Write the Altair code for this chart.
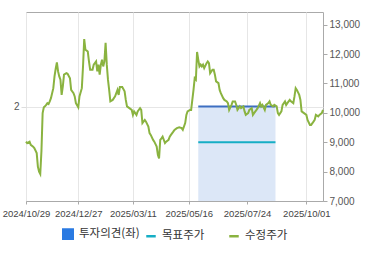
import altair as alt
import pandas as pd

# trading-day index and adjusted price (수정주가)
days = [0, 1, 3, 4, 6, 7, 9, 10, 11, 12, 13, 14, 15, 16, 17, 18, 19, 20, 21, 23, 24, 25, 26, 27, 28, 29, 30, 31,
        32, 34, 35, 37, 38, 40, 41, 42, 44, 45, 47, 48, 49, 50, 52, 53, 54, 56, 57, 59, 60, 61, 62, 63, 64, 65,
        66, 67, 68, 69, 70, 71, 73, 75, 77, 78, 79, 81, 83, 84, 85, 87, 89, 90, 91, 93, 94, 96, 97, 98, 100,
        101, 103, 104, 105, 107, 108, 110, 111, 112, 113, 114, 115, 117, 118, 120, 121, 122, 124, 125, 127,
        129, 131, 132, 134, 135, 136, 138, 139, 140, 141, 142, 143, 144, 145, 146, 147, 148, 149, 150, 152,
        153, 154, 155, 157, 158, 159, 160, 162, 163, 164, 166, 167, 169, 170, 171, 173, 174, 176, 177, 178,
        180, 181, 183, 184, 185, 187, 188, 190, 191, 192, 194, 195, 197, 198, 199, 201, 202, 204, 205, 206,
        208, 209, 211, 212, 213, 215, 216, 218, 219, 220, 222, 223, 225, 226, 227, 228, 230, 231, 232, 234,
        236, 237, 239, 240, 242, 243, 244, 246, 247, 249, 250]
prices = [9020, 8970, 9020, 8910, 8850, 8800, 8630, 8170, 8000, 7920, 8700, 9990, 10190, 10220, 10270, 10330,
          10300, 10390, 10500, 10840, 11240, 11500, 11720, 11410, 11240, 11130, 10610, 10900,
          11300, 11350, 11330, 11180, 10780, 10670, 10560, 10330, 10190, 10560, 10840, 11580, 12510, 12150,
          12090, 11750, 11470, 11470, 11640, 11750, 11410, 11640, 11300, 11640, 11810, 11580,
          11750, 12380, 11640, 11130, 10780, 10390, 10440, 10560, 10780, 10610, 10880, 10880, 10730, 10440,
          10220, 10160, 10100, 9930, 10050, 9930, 10050, 10160, 10100, 9650, 9760,
          9700, 9530, 9310, 9250, 9080, 9020, 8850, 8570, 8450, 9080, 9130, 9190, 8970, 9020, 9080, 9190,
          9250, 9360, 9420, 9480,
          9510, 9480, 9420, 9650, 9930, 10050, 10100, 10100, 10440, 10780, 11180, 11130, 12070, 11810,
          11580, 11640, 11580, 11640, 11520, 11690,
          11750, 11690, 11350, 11470, 11470, 11300, 11070, 11010, 10780, 10670, 10500, 10440, 10390, 10330,
          10100, 10270, 10390, 10390, 10270, 10100,
          10220, 10160, 10220, 10050, 9930, 9990, 10100, 10160, 9930, 9990, 10100, 10160, 10330, 10220,
          10270, 10100, 10270, 10330, 10390, 10270,
          10220, 10270, 10220, 9990, 9930, 10050, 10270, 10390, 10270, 10330, 10440, 10390, 10330, 10560,
          10840, 10780, 10610, 10440, 10050, 9990,
          9930, 9760, 9590, 9590, 9700, 9760, 9930, 9880, 9930, 9990, 10100]

# opinion / target period
op_start = [145]
op_end = [210]
opinion = [2]
target = [9000]

tick_days = [0, 44, 90, 137, 186, 236]
tick_labels = ["2024/10/29", "2024/12/27", "2025/03/11", "2025/05/16", "2025/07/24", "2025/10/01"]
price_ticks = [7000, 8000, 9000, 10000, 11000, 12000, 13000]

legend_names = ["투자의견(좌)", "목표주가", "수정주가"]
legend_colors = ["#2a7ae2", "#16aec5", "#8ab340"]
legend_shapes = ["square", "stroke", "stroke"]

price_df = pd.DataFrame({"day": days, "price": prices})
op_df = pd.DataFrame({"start": op_start, "end": op_end, "opinion": opinion, "target": target})
leg_df = pd.DataFrame({"name": legend_names, "day": [0, 0, 0], "price": [7000, 7000, 7000]})

label_expr = "{" + ",".join(f"'{d}':'{l}'" for d, l in zip(tick_days, tick_labels)) + "}[datum.value]"

FONT = "Liberation Sans"
x_scale = alt.Scale(domain=[0, 250], nice=False, zero=False)
x_axis = alt.Axis(values=tick_days, labelExpr=label_expr, grid=True, gridColor="#e6e6e6",
                  domain=True, domainColor="#aaaaaa", tickColor="#aaaaaa", tickSize=3,
                  labelColor="#444444", labelFontSize=9.5, labelFont=FONT, labelPadding=4,
                  labelFlush=False, labelOverlap=False, title=None)
y_price_scale = alt.Scale(domain=[7000, 13432], nice=False, zero=False)
y_op_scale = alt.Scale(domain=[0, 4], nice=False, zero=False)

op_axis = alt.Axis(values=[2], orient="left", grid=True, gridColor="#e6e6e6", domain=False,
                   tickColor="#dddddd", tickSize=5, labelPadding=2, labelColor="#555555",
                   labelFontSize=10, labelFont=FONT, title=None)
price_axis = alt.Axis(values=price_ticks, orient="right",
                      grid=False, domain=False, tickColor="#aaaaaa", tickSize=4, labelPadding=2,
                      labelColor="#555555", labelFontSize=10, labelFont=FONT,
                      labelExpr="format(datum.value, ',')",
                      labelOverlap=False, title=None)

area = alt.Chart(op_df).mark_rect(color="#dce7f7").encode(
    x=alt.X("start:Q", scale=x_scale, axis=x_axis),
    x2="end:Q",
    y=alt.Y("opinion:Q", scale=y_op_scale, axis=op_axis),
    y2=alt.datum(0),
)
op_line = alt.Chart(op_df).mark_rule(color="#3d6fc1", strokeWidth=2).encode(
    x=alt.X("start:Q", scale=x_scale, axis=x_axis),
    x2="end:Q",
    y=alt.Y("opinion:Q", scale=y_op_scale, axis=op_axis),
)
left = alt.layer(area, op_line)

target_line = alt.Chart(op_df).mark_rule(color="#16aec5", strokeWidth=2).encode(
    x=alt.X("start:Q", scale=x_scale, axis=x_axis),
    x2="end:Q",
    y=alt.Y("target:Q", scale=y_price_scale, axis=price_axis),
)
price_line = alt.Chart(price_df).mark_line(color="#8ab340", strokeWidth=2).encode(
    x=alt.X("day:Q", scale=x_scale, axis=x_axis),
    y=alt.Y("price:Q", scale=y_price_scale, axis=price_axis),
)
legend = alt.Legend(orient="none", legendX=36, legendY=216, direction="horizontal", columns=3,
                    gridAlign="all", columnPadding=1, title=None, labelFont="Noto Sans CJK KR",
                    labelFontSize=11.5, labelColor="#333333", symbolSize=90, symbolStrokeWidth=2.5,
                    symbolOpacity=1, labelOffset=5, padding=0)
leg_layer = alt.Chart(leg_df).mark_point(filled=True, opacity=0, strokeWidth=2.5).encode(
    x=alt.X("day:Q", scale=x_scale, axis=x_axis),
    y=alt.Y("price:Q", scale=y_price_scale, axis=price_axis),
    fill=alt.Fill("name:N", scale=alt.Scale(domain=legend_names, range=legend_colors), legend=legend, sort=legend_names),
    stroke=alt.Stroke("name:N", scale=alt.Scale(domain=legend_names, range=legend_colors), legend=legend, sort=legend_names),
    shape=alt.Shape("name:N", scale=alt.Scale(domain=legend_names, range=legend_shapes), legend=legend, sort=legend_names),
)
right = alt.layer(target_line, price_line, leg_layer)

chart = alt.layer(left, right).resolve_scale(y="independent").properties(
    width=297, height=189,
    autosize=alt.AutoSizeParams(type="none"),
    padding={"left": 26, "top": 12, "right": 47, "bottom": 54},
    background="white",
).configure_view(stroke="#aaaaaa", strokeWidth=1)

chart.save("out.html", embed_options={"renderer": "svg", "actions": False})
